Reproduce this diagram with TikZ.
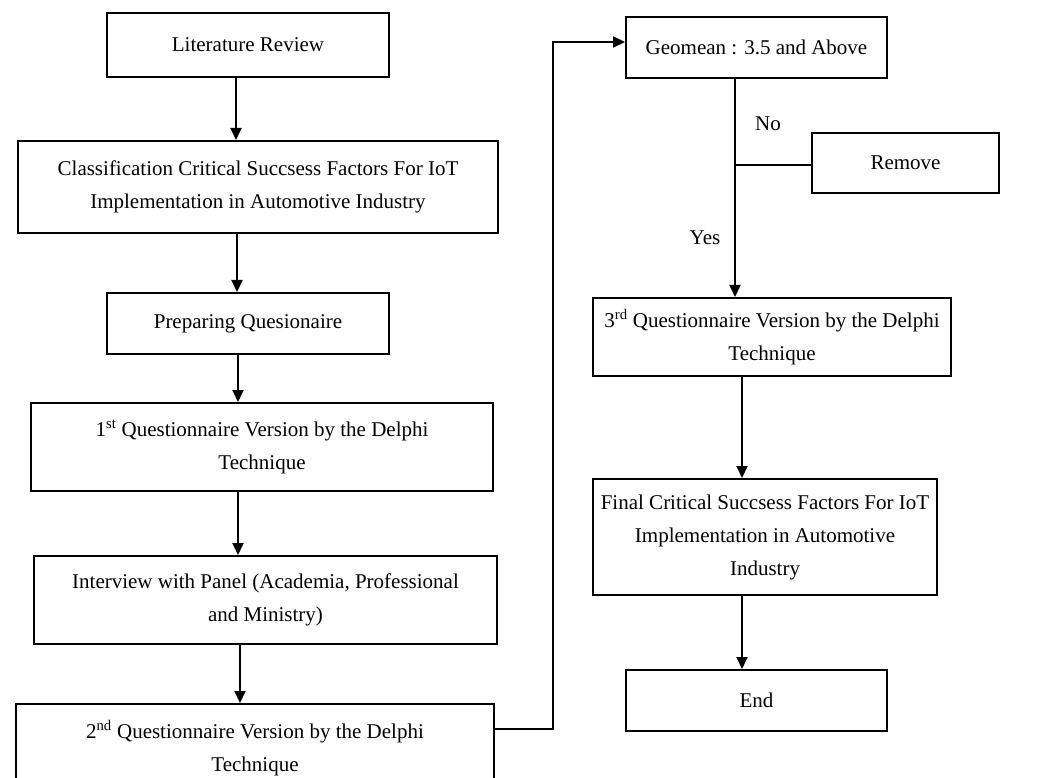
\documentclass[tikz,border=0pt]{standalone}
\usepackage{fontspec}
\setmainfont{Liberation Serif}
\usetikzlibrary{arrows.meta}
\begin{document}
\begin{tikzpicture}[x=1pt,y=-1pt,
  box/.style={draw,line width=2pt,align=center,inner sep=0pt,
    font=\fontsize{21}{33}\selectfont},
  arr/.style={line width=2pt,-{Triangle[length=12pt,width=11pt]}},
  conn/.style={line width=2pt},
  lbl/.style={font=\fontsize{21}{33}\selectfont}]
\useasboundingbox (0,0) rectangle (1045,778);
\clip (0,0) rectangle (1045,778);
\node[box,minimum width=282pt,minimum height=64pt] (lit) at (248,45) {Literature Review};
\node[box,minimum width=480pt,minimum height=92pt] (cls) at (258,187) {Classification Critical Succsess Factors For IoT\\Implementation in Automotive Industry};
\node[box,minimum width=282pt,minimum height=61pt] (prep) at (248,323.5) {Preparing Quesionaire};
\node[box,minimum width=462pt,minimum height=88pt] (q1) at (262,447) {1\textsuperscript{st} Questionnaire Version by the Delphi\\Technique};
\node[box,minimum width=463pt,minimum height=88pt] (intv) at (265.5,600) {Interview with Panel (Academia, Professional\\and Ministry)};
\node[box,minimum width=478pt,minimum height=88pt] (q2) at (255,748) {2\textsuperscript{nd} Questionnaire Version by the Delphi\\Technique};
\node[box,minimum width=261pt,minimum height=61pt] (geo) at (756.5,47.5) {Geomean : 3.5 and Above};
\node[box,minimum width=187pt,minimum height=60pt] (rem) at (905.5,163) {Remove};
\node[box,minimum width=358pt,minimum height=78pt] (q3) at (772,337) {3\textsuperscript{rd} Questionnaire Version by the Delphi\\Technique};
\node[box,minimum width=344pt,minimum height=116pt] (fin) at (765,537) {Final Critical Succsess Factors For IoT\\Implementation in Automotive\\Industry};
\node[box,minimum width=261pt,minimum height=61pt] (end) at (756.5,700.5) {End};
\node[lbl] (no) at (768,124) {No};
\node[lbl] (yes) at (705,238) {Yes};
\coordinate (trunk) at (735,165);
\draw[arr] ([xshift=-12pt]lit.south) -- ([xshift=-12pt]lit.south |- cls.north);
\draw[arr] ([xshift=-21pt]cls.south) -- ([xshift=-21pt]cls.south |- prep.north);
\draw[arr] ([xshift=-10pt]prep.south) -- ([xshift=-10pt]prep.south |- q1.north);
\draw[arr] ([xshift=-24pt]q1.south) -- ([xshift=-24pt]q1.south |- intv.north);
\draw[arr] ([xshift=-25.5pt]intv.south) -- ([xshift=-25.5pt]intv.south |- q2.north);
\draw[arr] ([yshift=19pt]q2.east) -- ++(58,0) |- ([yshift=5.5pt]geo.west);
\draw[arr] ([xshift=-21.5pt]geo.south) -- ([xshift=-21.5pt]geo.south |- q3.north);
\draw[conn] (trunk) -- (trunk -| rem.west);
\draw[arr] ([xshift=-30pt]q3.south) -- ([xshift=-30pt]q3.south |- fin.north);
\draw[arr] ([xshift=-23pt]fin.south) -- ([xshift=-23pt]fin.south |- end.north);
\end{tikzpicture}
\end{document}
